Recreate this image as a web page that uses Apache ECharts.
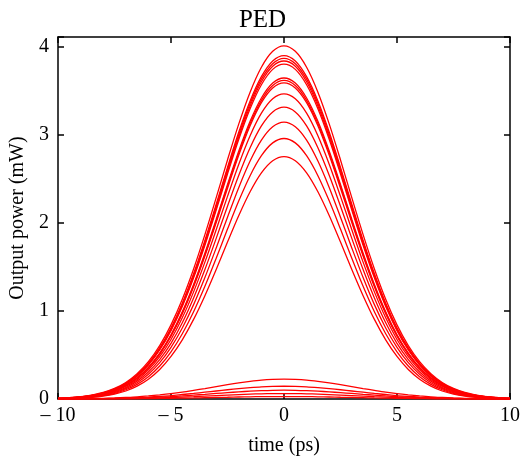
<!DOCTYPE html>
<html>
<head>
<meta charset="utf-8">
<script src="https://cdn.jsdelivr.net/npm/echarts@6/dist/echarts.min.js"></script>
<style>html,body{margin:0;padding:0;background:#fff}#c{width:525px;height:461px}</style>
</head>
<body>
<div id="c"></div>
<script>
// time axis (ps)
const time = [-10,-9.5,-9,-8.5,-8,-7.5,-7,-6.5,-6,-5.5,-5,-4.5,-4,-3.5,-3,-2.5,-2,-1.5,-1,-0.5,0,
              0.5,1,1.5,2,2.5,3,3.5,4,4.5,5,5.5,6,6.5,7,7.5,8,8.5,9,9.5,10];
// output power curves (mW)
const c1  = [0.008,0.014,0.026,0.044,0.074,0.120,0.188,0.287,0.424,0.607,0.843,1.134,1.479,1.869,2.289,2.718,3.128,3.489,3.772,3.953,4.015,
             3.953,3.772,3.489,3.128,2.718,2.289,1.869,1.479,1.134,0.843,0.607,0.424,0.287,0.188,0.120,0.074,0.044,0.026,0.014,0.008];
const c2  = [0.007,0.014,0.024,0.041,0.070,0.113,0.178,0.273,0.405,0.581,0.808,1.090,1.425,1.804,2.214,2.633,3.035,3.389,3.666,3.844,3.905,
             3.844,3.666,3.389,3.035,2.633,2.214,1.804,1.425,1.090,0.808,0.581,0.405,0.273,0.178,0.113,0.070,0.041,0.024,0.014,0.007];
const c3  = [0.007,0.013,0.024,0.041,0.068,0.111,0.175,0.269,0.399,0.573,0.798,1.078,1.409,1.786,2.193,2.610,3.008,3.360,3.637,3.813,3.874,
             3.813,3.637,3.360,3.008,2.610,2.193,1.786,1.409,1.078,0.798,0.573,0.399,0.269,0.175,0.111,0.068,0.041,0.024,0.013,0.007];
const c4  = [0.007,0.013,0.023,0.040,0.067,0.109,0.173,0.265,0.394,0.566,0.789,1.066,1.394,1.768,2.172,2.586,2.982,3.332,3.607,3.783,3.843,
             3.783,3.607,3.332,2.982,2.586,2.172,1.768,1.394,1.066,0.789,0.566,0.394,0.265,0.173,0.109,0.067,0.040,0.023,0.013,0.007];
const c5  = [0.007,0.013,0.022,0.039,0.066,0.107,0.170,0.260,0.387,0.558,0.778,1.052,1.377,1.748,2.148,2.559,2.953,3.300,3.573,3.748,3.808,
             3.748,3.573,3.300,2.953,2.559,2.148,1.748,1.377,1.052,0.778,0.558,0.387,0.260,0.170,0.107,0.066,0.039,0.022,0.013,0.007];
const c6  = [0.006,0.011,0.020,0.035,0.060,0.098,0.157,0.241,0.360,0.521,0.730,0.991,1.302,1.657,2.043,2.439,2.820,3.157,3.422,3.592,3.650,
             3.592,3.422,3.157,2.820,2.439,2.043,1.657,1.302,0.991,0.730,0.521,0.360,0.241,0.157,0.098,0.060,0.035,0.020,0.011,0.006];
const c7  = [0.006,0.011,0.020,0.035,0.059,0.097,0.154,0.238,0.356,0.515,0.722,0.980,1.289,1.642,2.025,2.419,2.797,3.132,3.396,3.565,3.623,
             3.565,3.396,3.132,2.797,2.419,2.025,1.642,1.289,0.980,0.722,0.515,0.356,0.238,0.154,0.097,0.059,0.035,0.020,0.011,0.006];
const c8  = [0.006,0.011,0.020,0.034,0.058,0.095,0.152,0.234,0.351,0.508,0.713,0.969,1.276,1.626,2.006,2.397,2.773,3.106,3.369,3.536,3.594,
             3.536,3.369,3.106,2.773,2.397,2.006,1.626,1.276,0.969,0.713,0.508,0.351,0.234,0.152,0.095,0.058,0.034,0.020,0.011,0.006];
const c9  = [0.005,0.010,0.018,0.032,0.054,0.088,0.142,0.220,0.331,0.481,0.677,0.923,1.218,1.556,1.925,2.304,2.670,2.994,3.250,3.414,3.470,
             3.414,3.250,2.994,2.670,2.304,1.925,1.556,1.218,0.923,0.677,0.481,0.331,0.220,0.142,0.088,0.054,0.032,0.018,0.010,0.005];
const c10 = [0.005,0.009,0.016,0.028,0.048,0.081,0.130,0.203,0.307,0.448,0.633,0.867,1.149,1.472,1.826,2.192,2.544,2.857,3.105,3.264,3.318,
             3.264,3.105,2.857,2.544,2.192,1.826,1.472,1.149,0.867,0.633,0.448,0.307,0.203,0.130,0.081,0.048,0.028,0.016,0.009,0.005];
const c11 = [0.004,0.008,0.014,0.025,0.043,0.072,0.117,0.185,0.281,0.413,0.587,0.807,1.073,1.381,1.718,2.067,2.406,2.706,2.944,3.096,3.149,
             3.096,2.944,2.706,2.406,2.067,1.718,1.381,1.073,0.807,0.587,0.413,0.281,0.185,0.117,0.072,0.043,0.025,0.014,0.008,0.004];
const c12 = [0.003,0.007,0.012,0.021,0.038,0.064,0.105,0.166,0.253,0.375,0.536,0.742,0.992,1.281,1.600,1.932,2.253,2.539,2.766,2.912,2.962,
             2.912,2.766,2.539,2.253,1.932,1.600,1.281,0.992,0.742,0.536,0.375,0.253,0.166,0.105,0.064,0.038,0.021,0.012,0.007,0.003];
const c13 = [0.003,0.005,0.010,0.018,0.032,0.055,0.091,0.146,0.225,0.336,0.484,0.673,0.905,1.175,1.473,1.784,2.086,2.356,2.571,2.709,2.756,
             2.709,2.571,2.356,2.086,1.784,1.473,1.175,0.905,0.673,0.484,0.336,0.225,0.146,0.091,0.055,0.032,0.018,0.010,0.005,0.003];
const s1  = [0.001,0.002,0.003,0.005,0.008,0.012,0.018,0.025,0.035,0.047,0.061,0.078,0.098,0.119,0.141,0.163,0.183,0.200,0.214,0.222,0.225,
             0.222,0.214,0.200,0.183,0.163,0.141,0.119,0.098,0.078,0.061,0.047,0.035,0.025,0.018,0.012,0.008,0.005,0.003,0.002,0.001];
const s2  = [0.001,0.001,0.002,0.003,0.005,0.008,0.011,0.016,0.022,0.030,0.039,0.051,0.063,0.077,0.091,0.105,0.118,0.129,0.138,0.143,0.145,
             0.143,0.138,0.129,0.118,0.105,0.091,0.077,0.063,0.051,0.039,0.030,0.022,0.016,0.011,0.008,0.005,0.003,0.002,0.001,0.001];
const s3  = [0.001,0.001,0.001,0.002,0.004,0.005,0.008,0.011,0.015,0.021,0.027,0.035,0.044,0.053,0.063,0.072,0.081,0.089,0.095,0.099,0.100,
             0.099,0.095,0.089,0.081,0.072,0.063,0.053,0.044,0.035,0.027,0.021,0.015,0.011,0.008,0.005,0.004,0.002,0.001,0.001,0.001];
const s4  = [0.000,0.001,0.001,0.001,0.002,0.003,0.005,0.007,0.010,0.013,0.017,0.022,0.027,0.033,0.039,0.045,0.050,0.055,0.059,0.061,0.062,
             0.061,0.059,0.055,0.050,0.045,0.039,0.033,0.027,0.022,0.017,0.013,0.010,0.007,0.005,0.003,0.002,0.001,0.001,0.001,0.000];
const s5  = [0.000,0.000,0.000,0.001,0.001,0.002,0.002,0.003,0.004,0.006,0.008,0.010,0.012,0.015,0.018,0.020,0.023,0.025,0.027,0.028,0.028,
             0.028,0.027,0.025,0.023,0.020,0.018,0.015,0.012,0.010,0.008,0.006,0.004,0.003,0.002,0.002,0.001,0.001,0.000,0.000,0.000];
const curves = [c1,c2,c3,c4,c5,c6,c7,c8,c9,c10,c11,c12,c13,s1,s2,s3,s4,s5];

const xTicks = [-10,-5,0,5,10];
const yTicks = [0,1,2,3,4];

const FONT = 'Liberation Serif';
const chart = echarts.init(document.getElementById('c'), null, {renderer:'canvas'});
const axisLine = {show:true, onZero:false, lineStyle:{color:'#000', width:1.5}};
const axisTick = {show:true, inside:true, length:6, lineStyle:{color:'#000', width:1.5}};
const xFmt = v => xTicks.includes(v) ? (v < 0 ? '\u2013 ' + Math.abs(v) : String(v)) : '';

chart.setOption({
  animation:false,
  title:{text:'PED', left:'center', top:3, textStyle:{fontFamily:FONT, fontSize:25, fontWeight:'normal', color:'#000'}},
  grid:{left:57, right:15, top:37, bottom:59},
  xAxis:[
    {type:'value', min:-10, max:10, interval:5, position:'bottom',
     name:'time (ps)', nameLocation:'middle', nameGap:37,
     nameTextStyle:{fontFamily:FONT, fontSize:20, color:'#000'},
     axisLine, axisTick, splitLine:{show:false},
     axisLabel:{fontFamily:FONT, fontSize:20, color:'#000', margin:7, formatter:xFmt}},
    {type:'value', min:-10, max:10, interval:5, position:'top',
     axisLine, axisTick, splitLine:{show:false}, axisLabel:{show:false}}
  ],
  yAxis:[
    {type:'value', min:0, max:4.116, interval:1, position:'left',
     name:'Output power (mW)', nameLocation:'middle', nameGap:30,
     nameTextStyle:{fontFamily:FONT, fontSize:20, color:'#000'},
     axisLine, axisTick, splitLine:{show:false},
     axisLabel:{fontFamily:FONT, fontSize:20, color:'#000', margin:9,
       formatter: v => yTicks.includes(v) ? String(v) : ''}},
    {type:'value', min:0, max:4.116, interval:1, position:'right',
     axisLine, axisTick, splitLine:{show:false}, axisLabel:{show:false}}
  ],
  series: curves.map(arr => ({
    type:'line', smooth:0.3, symbol:'none', xAxisIndex:0, yAxisIndex:0,
    lineStyle:{color:'#ff0000', width:1.3},
    data: time.map((t,i) => [t, arr[i]])
  }))
});
</script>
</body>
</html>
